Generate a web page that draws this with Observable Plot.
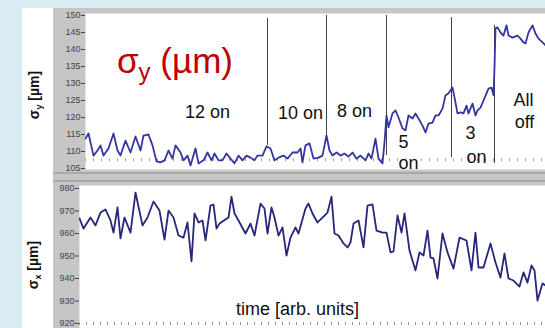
<!DOCTYPE html>
<html><head><meta charset="utf-8">
<script src="https://cdn.jsdelivr.net/npm/d3@7"></script>
<script src="https://cdn.jsdelivr.net/npm/@observablehq/plot@0.6"></script>
<style>
body{margin:0;background:#d9ecf4;}
#wrap{position:relative;width:545px;height:328px;overflow:hidden;background:#d9ecf4;font-family:"Liberation Sans",Arial,sans-serif;}
#slide{position:absolute;left:22px;top:8px;width:523px;height:320px;background:#fff;}
#top{position:absolute;left:53px;top:8px;}
#bot{position:absolute;left:53px;top:177px;}
.sep{position:absolute;left:53px;width:492px;height:2px;background:#a9a9a9;}
.ylab{position:absolute;transform:translate(-50%,-50%) rotate(-90deg);font-weight:bold;font-size:14px;white-space:nowrap;color:#111;}
.ylab sub{font-size:9px;}
#title{position:absolute;left:117px;top:43px;font-size:35px;line-height:35px;color:#c00000;font-family:"Liberation Sans",Arial,sans-serif;white-space:nowrap;}
#title sub{font-size:24px;vertical-align:-7px;}
</style></head>
<body>
<div id="wrap">
  <div id="slide"></div>
  <div id="top"></div>
  <div id="bot"></div>
  <div class="sep" style="top:172px"></div>
  <div class="sep" style="top:180px"></div>
  <div class="ylab" style="left:35px;top:95px">σ<sub>y</sub> [µm]</div>
  <div class="ylab" style="left:34px;top:265px">σ<sub>x</sub> [µm]</div>
  <div id="title">σ<sub>y</sub> (µm)</div>
</div>
<script>
// Top graph: sigma_y time series (time in arb. units)
const timeY = [0,1.5,4,6,7.5,9,11.5,14,16,17.5,20,22.5,25,27.5,29,31.5,33.5,35.5,37.5,39.5,41.5,43.5,45,47.5,49,51,52.5,55,56.5,59,61,63,64.5,66.5,68.5,70.5,72.5,74.5,76.5,78.5,80.5,82.5,84.5,86,88.5,90.5,92.5,94.5,96.5,99,101,103.5,106,107.5,108.5,110,112,114,116.5,118.5,120.5,122,123.5,125.5,127.5,129.5,131.5,133.5,135.5,137.5,140,141.5,143,145,146.5,148.5,149.5,150.5,151.5,153.5,155,156.5,158.5,160,161.5,163.5,165,166.5,168.5,170,171.5,173.5,175,176.5,178.5,180,181.5,183.5,184.5,186,187.5,189,190.5,191.5,193.5,195,196,197.5,199,200.5,201.5,203,204,204.5,205,206,207.5,209,210.5,211.5,213.5,216,217.5,219,220,221.5,223.5,225,226.5,228.5,230];
const sigmaY = [113.8,115.3,108.8,110.3,111.8,108.8,110.9,115.3,110.3,108.8,113.2,109.7,114.4,110.3,114.7,115.0,111.8,107.1,106.8,107.4,110.3,107.9,111.8,109.7,107.4,108.8,105.9,110.9,106.5,107.4,109.7,107.4,109.4,107.4,107.4,109.4,107.9,106.5,108.8,107.4,108.8,108.2,107.4,108.8,108.8,111.5,110.9,107.4,108.2,108.8,107.9,109.7,109.7,110.9,106.8,111.8,112.4,107.9,108.2,108.8,114.7,110.3,108.8,109.7,108.8,109.4,108.5,109.7,107.9,108.8,107.4,109.4,107.9,113.8,107.9,106.5,112.6,120.6,117.1,121.2,122.1,120.0,116.8,116.2,120.6,119.7,121.2,119.7,117.6,115.6,118.2,118.5,120.6,120.6,122.6,126.5,127.1,128.8,125.9,121.2,121.5,121.2,123.5,121.2,124.1,120.6,122.1,122.9,125.0,127.1,128.5,128.8,126.5,134.7,146.2,146.5,145.0,144.1,147.1,144.1,143.5,144.1,143.2,142.1,141.8,145.0,147.1,144.7,143.2,142.1,141.2];
const yTicksTop = [105,110,115,120,125,130,135,140,145,150];

// Marker lines (time where the number of magnets changes) and their extent
const switchTime = [91, 120.5, 150.5, 183, 204.5];
const switchTop = [149.1, 150, 150, 149.4, 147.1];
const switchBottom = [111.8, 114.7, 108.8, 108.2, 106.5];
const baselineY = 107.6;

// Annotations on the top graph
const noteText = ["12 on","10 on","8 on","5","on","3","on","All","off"];
const noteTime = [61,107.5,134.5,159,161.5,192.5,195.5,219,219.5];
const noteValue = [121.5,121.2,121.8,112.6,106.5,115.3,108.2,125,118.5];

// Bottom graph: sigma_x time series
const timeX = [0,2,5.5,8,10.5,13,15.5,17,19,20.5,22.5,25.5,28,31.5,34,37,40,42.5,44.5,47,49.5,52,54,56,57.5,59.5,61.5,63,65.5,67,68.5,70,73,74.5,76,77.5,79.5,83,85.5,87.5,90.5,92.5,94,96,97.5,99.5,101.5,103.5,105.5,108,109.5,113,114.5,116.5,119,121.5,124,126,127.5,129.5,132,134,135.5,137,139.5,142,144,146.5,148.5,151.5,153.5,155.5,157,159,161,162.5,165,168,170,172,174,175.5,177,179,181.5,184,187,190,193.5,196,198,199.5,202,205.5,208,210.5,212.5,214.5,217,220,222,224,226,227.5,229,231.5,233];
const sigmaX = [966.7,962.2,967.1,963.6,969.3,970.7,965.8,960.4,971.6,957.8,967.1,960.4,978.2,963.6,967.1,974.2,970.2,957.3,970.2,967.1,959.1,958.2,964.9,947.6,968.9,964.9,965.8,956.9,972.4,972.9,962.2,964.4,966.2,967.1,976.4,968.9,965.8,960.0,964.4,959.1,973.3,971.1,960.0,971.6,967.1,959.1,962.7,950.2,958.2,962.7,960.0,971.1,973.3,968.9,964.9,967.1,969.3,976.4,960.0,959.1,955.6,953.8,956.0,964.4,965.8,953.8,972.4,972.9,961.3,960.4,960.4,951.6,952.0,968.0,960.4,968.9,952.4,943.6,951.6,950.2,961.3,949.3,948.9,940.0,960.0,951.6,944.4,958.2,956.9,943.6,960.4,944.9,944.9,955.6,947.1,940.4,951.1,940.0,939.1,936.4,942.7,938.2,945.8,943.6,930.2,937.8,936.9];
const yTicksBot = [920,930,940,950,960,970,980];
const xLabel = "time [arb. units]";
const xLabelPos = {t: 109, v: 926.2};

const topData = timeY.map((t,i)=>({t, v: sigmaY[i]}));
const botData = timeX.map((t,i)=>({t, v: sigmaX[i]}));
const switches = switchTime.map((t,i)=>({t, y1: switchBottom[i], y2: switchTop[i]}));
const notes = noteText.map((s,i)=>({s, t: noteTime[i], v: noteValue[i]}));

const font = "Liberation Sans, Arial, sans-serif";

const topPlot = Plot.plot({
  width: 492, height: 169,
  marginLeft: 32, marginRight: 0, marginTop: 7, marginBottom: 9,
  style: {background: "#c6c6c6", fontFamily: font},
  x: {domain: [0, 230], axis: null},
  y: {domain: [105, 150], axis: null},
  marks: [
    Plot.frame({fill: "white", stroke: null, insetTop: -2, insetBottom: -1}),
    Plot.axisY({ticks: yTicksTop, tickSize: 4, tickPadding: 1, fontSize: 9, fill: "#444", stroke: "#444", label: null}),
    Plot.ruleY([baselineY], {stroke: "#999", strokeWidth: 2.5, strokeDasharray: "1,7"}),
    Plot.ruleX(switches, {x: "t", y1: "y1", y2: "y2", stroke: "#444", strokeWidth: 1}),
    Plot.line(topData, {x: "t", y: "v", stroke: "#3535a0", strokeWidth: 1.8, clip: true}),
    Plot.text(notes, {x: "t", y: "v", text: "s", fontSize: 18, fill: "#111", fontFamily: font})
  ]
});
document.getElementById("top").appendChild(topPlot);

const botPlot = Plot.plot({
  width: 492, height: 151,
  marginLeft: 26, marginRight: 0, marginTop: 11, marginBottom: 5,
  style: {background: "#c6c6c6", fontFamily: font},
  x: {domain: [0, 233], axis: null},
  y: {domain: [920, 980], axis: null},
  marks: [
    Plot.frame({fill: "white", stroke: null, insetTop: -3, insetBottom: -5}),
    Plot.axisY({ticks: yTicksBot, tickSize: 4, tickPadding: 1, fontSize: 9, fill: "#444", stroke: "#444", label: null}),
    Plot.ruleY([920], {stroke: "#999", strokeWidth: 3, strokeDasharray: "1,6"}),
    Plot.line(botData, {x: "t", y: "v", stroke: "#26267a", strokeWidth: 1.8, clip: true}),
    Plot.text([xLabelPos], {x: "t", y: "v", text: () => xLabel, fontSize: 18, fill: "#111", fontFamily: font})
  ]
});
document.getElementById("bot").appendChild(botPlot);
</script>
</body></html>
